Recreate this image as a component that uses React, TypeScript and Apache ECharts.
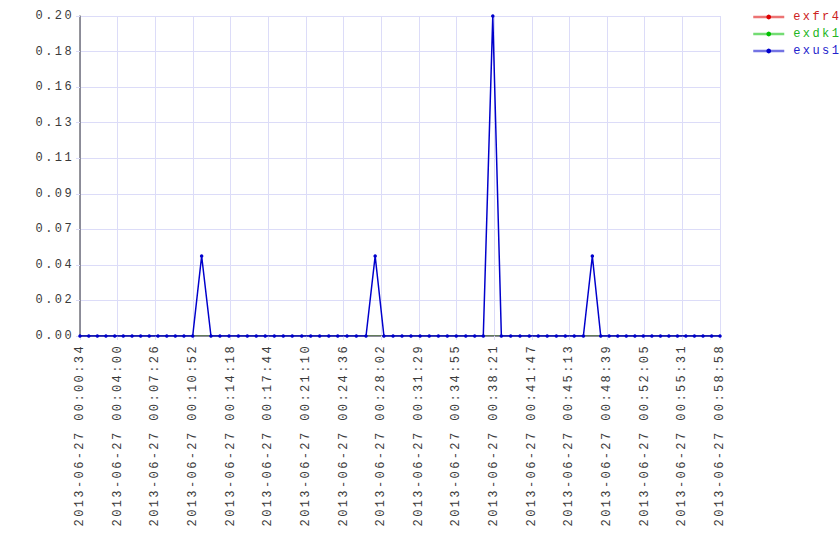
import React, { useEffect, useRef } from "react";
import * as echarts from "echarts";

const DAY = "2013-06-27";
const START = "00:00:34";
const END = "00:58:58";

const times = [
  "00:00:34", "00:01:22", "00:02:09", "00:02:56", "00:03:44", "00:04:31", "00:05:19", "00:06:06", "00:06:53", "00:07:41",
  "00:08:29", "00:09:16", "00:10:03", "00:10:51", "00:11:40", "00:12:31", "00:13:20", "00:14:10", "00:15:01", "00:15:50",
  "00:16:39", "00:17:28", "00:18:18", "00:19:07", "00:19:56", "00:20:48", "00:21:37", "00:22:26", "00:23:16", "00:24:05",
  "00:24:56", "00:25:47", "00:26:40", "00:27:30", "00:28:18", "00:29:08", "00:29:57", "00:30:46", "00:31:36", "00:32:26",
  "00:33:16", "00:34:05", "00:34:54", "00:35:46", "00:36:35", "00:37:22", "00:38:14", "00:39:01", "00:39:52", "00:40:43",
  "00:41:34", "00:42:23", "00:43:12", "00:44:02", "00:44:51", "00:45:40", "00:46:30", "00:47:19", "00:48:05", "00:48:51",
  "00:49:38", "00:50:25", "00:51:12", "00:51:58", "00:52:45", "00:53:32", "00:54:18", "00:55:05", "00:55:51", "00:56:38",
  "00:57:25", "00:58:12", "00:58:58",
];

const exfr4 = [
  0, 0, 0, 0, 0, 0, 0, 0, 0, 0,
  0, 0, 0, 0, 0, 0, 0, 0, 0, 0,
  0, 0, 0, 0, 0, 0, 0, 0, 0, 0,
  0, 0, 0, 0, 0, 0, 0, 0, 0, 0,
  0, 0, 0, 0, 0, 0, 0, 0, 0, 0,
  0, 0, 0, 0, 0, 0, 0, 0, 0, 0,
  0, 0, 0, 0, 0, 0, 0, 0, 0, 0,
  0, 0, 0,
];

const exdk1 = [
  0, 0, 0, 0, 0, 0, 0, 0, 0, 0,
  0, 0, 0, 0, 0, 0, 0, 0, 0, 0,
  0, 0, 0, 0, 0, 0, 0, 0, 0, 0,
  0, 0, 0, 0, 0, 0, 0, 0, 0, 0,
  0, 0, 0, 0, 0, 0, 0, 0, 0, 0,
  0, 0, 0, 0, 0, 0, 0, 0, 0, 0,
  0, 0, 0, 0, 0, 0, 0, 0, 0, 0,
  0, 0, 0,
];

const exus1 = [
  0, 0, 0, 0, 0, 0, 0, 0, 0, 0,
  0, 0, 0, 0, 0.05, 0, 0, 0, 0, 0,
  0, 0, 0, 0, 0, 0, 0, 0, 0, 0,
  0, 0, 0, 0.05, 0, 0, 0, 0, 0, 0,
  0, 0, 0, 0, 0, 0, 0.2, 0, 0, 0,
  0, 0, 0, 0, 0, 0, 0, 0.05, 0, 0,
  0, 0, 0, 0, 0, 0, 0, 0, 0, 0,
  0, 0, 0,
];

const seriesNames = ["exfr4", "exdk1", "exus1"];
const seriesColors = ["#dd0000", "#00c000", "#0000cc"];
const legendTextColors = ["#cc2222", "#22b522", "#2222cc"];

const Y_MAX = 0.2;
const Y_SPLITS = 9;
const X_SPLITS = 17;

function toSec(t: string): number {
  const [h, m, s] = t.split(":").map(Number);
  return h * 3600 + m * 60 + s;
}
function pad(n: number): string {
  return n < 10 ? "0" + n : "" + n;
}
function fmtSec(sec: number): string {
  const h = Math.floor(sec / 3600);
  const m = Math.floor((sec % 3600) / 60);
  const s = sec % 60;
  return pad(h) + ":" + pad(m) + ":" + pad(s);
}

const FONT = "'Liberation Mono', 'DejaVu Sans Mono', monospace";
const FS = 12;

export default function App() {
  const ref = useRef<HTMLDivElement>(null);
  useEffect(() => {
    if (!ref.current) return;
    const chart = echarts.init(ref.current, undefined, { renderer: "svg" });
    const t0 = toSec(START);
    const xMax = toSec(END) - t0;
    const allSeries = [exfr4, exdk1, exus1];
    chart.setOption({
      animation: false,
      backgroundColor: "#ffffff",
      grid: { left: 80, top: 16, right: 120, bottom: 224, containLabel: false },
      legend: {
        orient: "vertical",
        left: 747,
        top: 6,
        itemWidth: 31,
        itemHeight: 6,
        itemGap: 5,
        lineStyle: { width: 2.5, opacity: 0.55 },
        textStyle: { fontFamily: FONT, fontSize: FS, padding: [0, 0, 0, 4] },
        data: seriesNames.map((n, i) => ({ name: n, textStyle: { color: legendTextColors[i] } })),
      },
      xAxis: {
        type: "value",
        min: 0,
        max: xMax,
        interval: xMax / X_SPLITS,
        z: 3,
        axisLine: { show: true, onZero: false, lineStyle: { color: "#707078", width: 1.5 } },
        axisTick: { show: true, length: 4, lineStyle: { color: "#dcdcf8" } },
        splitLine: { show: true, lineStyle: { color: "#dcdcf8", width: 1 } },
        axisLabel: {
          rotate: 90,
          margin: 8,
          color: "#3a3a3a",
          fontFamily: FONT,
          fontSize: FS,
          formatter: (v: number) => DAY + " " + fmtSec(Math.floor(v + t0 + 0.05)),
        },
      },
      yAxis: {
        type: "value",
        min: 0,
        max: Y_MAX,
        interval: Y_MAX / Y_SPLITS,
        z: 3,
        axisLine: { show: true, lineStyle: { color: "#707078", width: 1.5 } },
        axisTick: { show: true, length: 4, lineStyle: { color: "#dcdcf8" } },
        splitLine: { show: true, lineStyle: { color: "#dcdcf8", width: 1 } },
        axisLabel: {
          margin: 6,
          color: "#3a3a3a",
          fontFamily: FONT,
          fontSize: FS,
          formatter: (v: number) => v.toFixed(2),
        },
      },
      series: seriesNames.map((n, i) => ({
        name: n,
        type: "line",
        z: i === 2 ? 5 : 1,
        color: seriesColors[i],
        symbol: "circle",
        symbolSize: 3.5,
        showSymbol: i === 2,
        lineStyle: { width: 1.5, color: seriesColors[i] },
        itemStyle: { color: seriesColors[i] },
        data: times.map((t, k) => [toSec(t) - t0, allSeries[i][k]]),
      })),
    });
    return () => chart.dispose();
  }, []);
  return (
    <div>
      <style>{`#chart-root text { letter-spacing: 2.4px; }`}</style>
      <div
        id="chart-root"
        ref={ref}
        style={{ position: "fixed", left: 0, top: 0, width: 840, height: 560 }}
      />
    </div>
  );
}
